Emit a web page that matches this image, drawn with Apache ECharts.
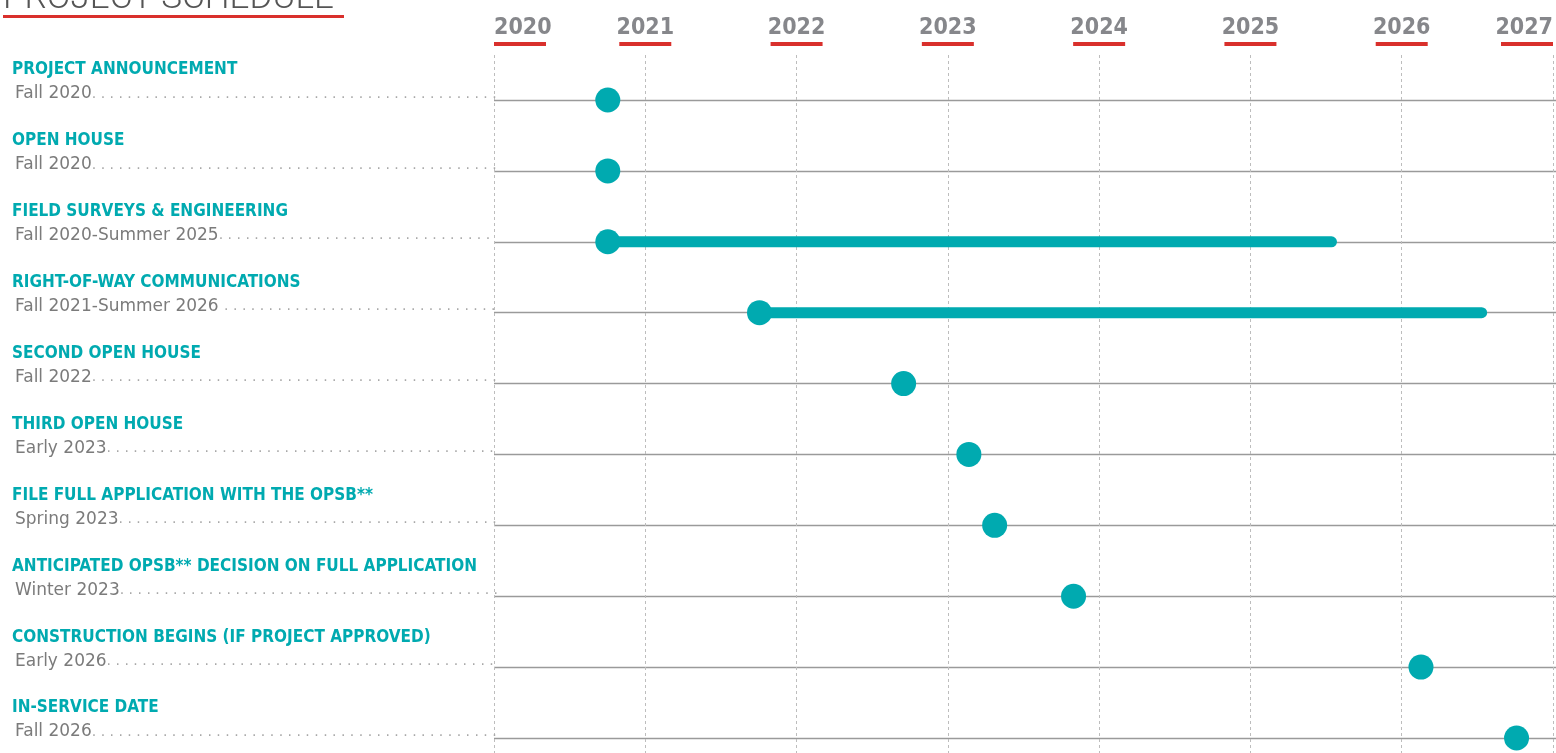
<!DOCTYPE html>
<html>
<head>
<meta charset="utf-8">
<script src="https://cdn.jsdelivr.net/npm/echarts@6/dist/echarts.min.js"></script>
<style>
html,body{margin:0;padding:0;background:#fff;}
#chart{width:1556px;height:753px;}
</style>
</head>
<body>
<div id="chart"></div>
<script>
const chartTitle = 'PROJECT SCHEDULE';
const rowTitles = [
  'PROJECT ANNOUNCEMENT',
  'OPEN HOUSE',
  'FIELD SURVEYS & ENGINEERING',
  'RIGHT-OF-WAY COMMUNICATIONS',
  'SECOND OPEN HOUSE',
  'THIRD OPEN HOUSE',
  'FILE FULL APPLICATION WITH THE OPSB**',
  'ANTICIPATED OPSB** DECISION ON FULL APPLICATION',
  'CONSTRUCTION BEGINS (IF PROJECT APPROVED)',
  'IN-SERVICE DATE'
];
const rowDates = [
  'Fall 2020',
  'Fall 2020',
  'Fall 2020-Summer 2025',
  'Fall 2021-Summer 2026 ',
  'Fall 2022',
  'Early 2023',
  'Spring 2023',
  'Winter 2023',
  'Early 2026',
  'Fall 2026'
];
const startYear = [2020.75, 2020.75, 2020.75, 2021.75, 2022.70, 2023.13, 2023.30, 2023.82, 2026.11, 2026.74];
const endYear   = [null, null, 2025.52, 2026.51, null, null, null, null, null, null];
const yearMin = 2020;
const yearMax = 2027;

const TEAL = '#00aab0';
const RED = '#d9302c';
const GRAY_YEAR = '#86878b';
const GRAY_SUB = '#7b7b7b';
const SUB_FONT = '"DejaVu Sans", sans-serif';
const NARROW = '"Liberation Sans Narrow", "DejaVu Sans Condensed", sans-serif';

// measure text to build dotted leaders
const mctx = document.createElement('canvas').getContext('2d');
const dotsFor = (s) => {
  mctx.font = '17px ' + SUB_FONT;
  const w = mctx.measureText(s).width;
  mctx.font = '14px ' + SUB_FONT;
  const unit = mctx.measureText('. ').width;
  const avail = 494 - 6 - w;
  const n = Math.max(0, Math.floor(avail / unit));
  return '. '.repeat(n).trimEnd();
};

const rangeSeries = [];
startYear.forEach((s, i) => {
  if (endYear[i] != null) {
    rangeSeries.push({
      type: 'line',
      xAxisIndex: 1, yAxisIndex: 1,
      data: [[s, i], [endYear[i], i]],
      symbol: 'none',
      lineStyle: { color: TEAL, width: 11, cap: 'round' },
      silent: true, z: 2, animation: false
    });
  }
});

const chart = echarts.init(document.getElementById('chart'), null, { renderer: 'canvas' });
chart.setOption({
  animation: false,
  backgroundColor: '#fff',
  title: {
    text: '{a|' + chartTitle + '}\n{u| }',
    left: 3, top: -16, padding: 0,
    textStyle: {
      rich: {
        a: { fontFamily: 'Roboto, sans-serif', fontWeight: 300, fontSize: 35, color: '#555', lineHeight: 31 },
        u: { backgroundColor: RED, width: 341, height: 3, fontSize: 1, lineHeight: 3 }
      }
    }
  },
  grid: [
    { left: 494, right: -2, top: 55, bottom: 0 },
    { left: 494, right: -2, top: 100, bottom: 15 }
  ],
  xAxis: [
    {
      gridIndex: 0, type: 'value', position: 'top',
      min: yearMin, max: yearMax, interval: 1,
      axisLine: { show: false }, axisTick: { show: false },
      splitLine: { show: true, lineStyle: { color: '#bdbdbd', type: [3, 3], width: 1 } },
      axisLabel: {
        margin: 9,
        showMinLabel: true, showMaxLabel: true,
        alignMinLabel: 'left', alignMaxLabel: 'right',
        verticalAlign: 'bottom',
        formatter: (v) => '{y|' + v + '}\n{u| }',
        rich: {
          y: { fontFamily: NARROW, fontWeight: 'bold', fontSize: 23, color: GRAY_YEAR, lineHeight: 28 },
          u: { backgroundColor: RED, width: 52, height: 4, fontSize: 1, lineHeight: 4 }
        }
      }
    },
    {
      gridIndex: 1, type: 'value', min: yearMin, max: yearMax, interval: 1,
      show: false, splitLine: { show: false }
    }
  ],
  yAxis: [
    { gridIndex: 0, type: 'value', show: false, splitLine: { show: false } },
    {
      gridIndex: 1, type: 'category', inverse: true, boundaryGap: false,
      data: rowTitles,
      axisLine: { show: false }, axisTick: { show: false },
      splitLine: { show: true, lineStyle: { color: '#9a9a9a', width: 1.4 } },
      axisLabel: {
        align: 'left', margin: 482, verticalAlign: 'bottom',
        interval: 0,
        formatter: (v, i) => '{t|' + v + '}\n{s|' + rowDates[i] + '}{d|' + dotsFor(rowDates[i]) + '}',
        rich: {
          t: { fontFamily: NARROW, fontWeight: 'bold', fontSize: 17, color: TEAL, lineHeight: 36 },
          s: { fontFamily: SUB_FONT, fontSize: 17, color: GRAY_SUB, lineHeight: 12, padding: [0, 0, 0, 3] },
          d: { fontFamily: SUB_FONT, fontSize: 14, color: '#a8a8a8', lineHeight: 12 }
        }
      }
    }
  ],
  series: [
    ...rangeSeries,
    {
      type: 'scatter',
      xAxisIndex: 1, yAxisIndex: 1,
      data: startYear.map((v, i) => [v, i]),
      symbol: 'circle', symbolSize: 25,
      itemStyle: { color: TEAL, opacity: 1 },
      silent: true, z: 3
    }
  ]
});
</script>
</body>
</html>
